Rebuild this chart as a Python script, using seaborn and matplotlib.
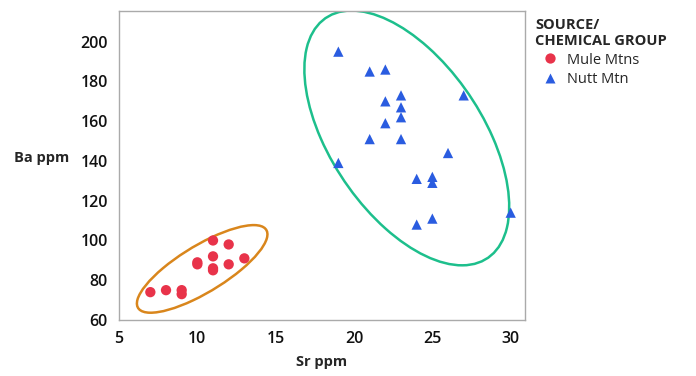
import matplotlib
matplotlib.use("Agg")
import matplotlib.pyplot as plt
import numpy as np
import pandas as pd
import seaborn as sns
from matplotlib.patches import Ellipse

# Mule Mtns group
mule_sr = [7, 8, 9, 9, 10, 10, 11, 11, 11, 11, 12, 12, 13]
mule_ba = [74, 75, 75, 73, 89, 88, 100, 92, 86, 85, 98, 88, 91]

# Nutt Mtn group
nutt_sr = [19, 21, 22, 23, 22, 23, 23, 27, 22, 21, 23, 26, 19, 24, 25, 25, 24, 25, 30]
nutt_ba = [195, 185, 186, 173, 170, 167, 162, 173, 159, 151, 151, 144, 139, 131, 132, 129, 108, 111, 114]

groups = ["Mule Mtns", "Nutt Mtn"]
colors = {"Mule Mtns": "#e8334a", "Nutt Mtn": "#2a5ce0"}
ellipse_colors = {"Mule Mtns": "#d9861c", "Nutt Mtn": "#1dbf8c"}

df = pd.DataFrame({
    "Sr": mule_sr + nutt_sr,
    "Ba": mule_ba + nutt_ba,
    "group": ["Mule Mtns"] * len(mule_sr) + ["Nutt Mtn"] * len(nutt_sr),
})

sns.set_style("white")
plt.rcParams["font.family"] = ["Open Sans", "DejaVu Sans"]

fig = plt.figure(figsize=(6.96, 3.76), dpi=100)
ax = fig.add_axes([0.171, 0.149, 0.583, 0.822])


# density ellipse (95%) from group covariance
def density_ellipse(x, y, color):
    x = np.asarray(x, float)
    y = np.asarray(y, float)
    cov = np.cov(x, y)
    vals, vecs = np.linalg.eigh(cov)
    order = vals.argsort()[::-1]
    vals, vecs = vals[order], vecs[:, order]
    angle = np.degrees(np.arctan2(vecs[1, 0], vecs[0, 0]))
    k = np.sqrt(5.991)
    w, h = 2 * k * np.sqrt(vals)
    e = Ellipse((x.mean(), y.mean()), w, h, angle=angle, fill=False,
                edgecolor=color, lw=1.8, zorder=1)
    ax.add_patch(e)


for g in groups:
    sub = df[df["group"] == g]
    density_ellipse(sub["Sr"], sub["Ba"], ellipse_colors[g])

sns.scatterplot(data=df, x="Sr", y="Ba", hue="group", style="group",
                markers={"Mule Mtns": "o", "Nutt Mtn": "^"},
                palette=colors, s=55, edgecolor="none", ax=ax, zorder=3)

ax.set_xlim(5, 30.9)
ax.set_ylim(60, 215.5)
ax.set_xticks([5, 10, 15, 20, 25, 30])
ax.set_yticks([60, 80, 100, 120, 140, 160, 180, 200])
ax.tick_params(axis="both", direction="out", length=4, color="#999999",
               labelsize=11.5, pad=4, labelcolor="#111111")
for lab in ax.get_xticklabels() + ax.get_yticklabels():
    lab.set_fontweight("semibold")
for s in ax.spines.values():
    s.set_color("#aaaaaa")
    s.set_linewidth(1)

ax.set_xlabel("Sr ppm", fontsize=10.5, fontweight="bold", labelpad=6)
ax.set_ylabel("Ba ppm", fontsize=10.5, fontweight="bold", rotation=0,
              labelpad=28)

handles, labels = ax.get_legend_handles_labels()
leg = ax.legend(handles, labels, title="SOURCE/\nCHEMICAL GROUP",
                loc="upper left", bbox_to_anchor=(1.0, 1.01), frameon=False,
                fontsize=10.5, title_fontsize=10.5, handletextpad=0.2,
                borderaxespad=0.3, labelspacing=0.3)
leg.get_title().set_fontweight("bold")
leg._legend_box.align = "left"

fig.savefig("out.png", dpi=100)
